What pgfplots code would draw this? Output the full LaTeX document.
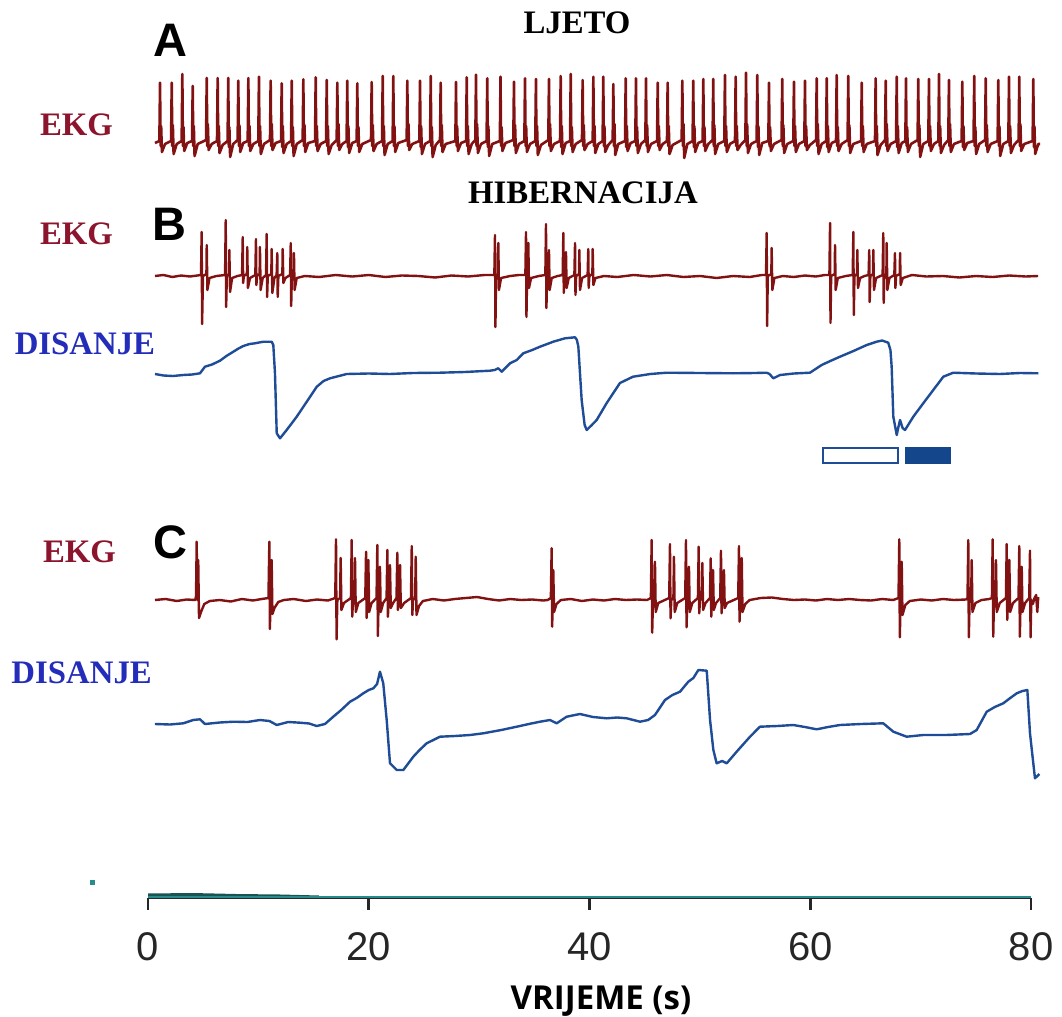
\documentclass[border=0pt]{standalone}
\usepackage{pgfplots}
\pgfplotsset{compat=1.18}
\usepackage{fontspec}
\setmainfont{Liberation Serif}
\newfontfamily\labelsans{Liberation Sans}
\newfontfamily\opensans{Open Sans}
\definecolor{ekg}{RGB}{130,18,18}
\definecolor{ekgtext}{RGB}{140,20,45}
\definecolor{dis}{RGB}{30,76,150}
\definecolor{distext}{RGB}{35,45,185}
\definecolor{barfill}{RGB}{20,70,140}
\definecolor{axteal}{RGB}{40,140,140}

\begin{document}
\begin{tikzpicture}
% time axis (0-80 s)
\begin{axis}[at={(74pt,59.5pt)}, anchor=south west, scale only axis,
  width=441.6pt, height=20pt, xmin=0, xmax=80, ymin=0, ymax=1,
  axis x line=bottom, axis y line=none,
  axis line style={-, black!85, line width=1.5pt}, x axis line style={-},
  xtick={0,20,40,60,80}, xticklabels={0,20,40,60,80}, ytick=\empty,
  tick align=outside, major tick length=6pt,
  tick style={black!85, line width=1.3pt},
  /pgf/number format/assume math mode=true,
  xticklabel style={font=\fontsize{20}{22}\selectfont\labelsans, text=black!85, inner sep=0pt, yshift=-10.85pt}]
\end{axis}

\begin{axis}[name=main, at={(0,0)}, anchor=south west, scale only axis,
  width=531pt, height=508.5pt,
  xmin=-13.406, xmax=82.79, ymin=0, ymax=1017, y dir=reverse,
  hide axis, clip=false]

% teal artefacts on the time axis
\addplot[draw=none, fill=axteal!60!black] coordinates {(0,893.5)(4,893)(8,894)(12,894.5)(15.5,895.5)(15.5,898)(0,898)} -- cycle;
\addplot[axteal, line width=0.8pt] coordinates {(0,897)(80,897)};
\addplot[only marks, mark=square*, mark size=1pt, axteal] coordinates {(-5.07,882)};

% A: EKG summer
\addplot[ekg, line width=1.3pt, line join=round] coordinates {
(0.63,143)
(1.03,141)(1.09,82.7)(1.14,146)(1.19,126)(1.26,152)(1.54,144)
(2.09,141)(2.15,82.7)(2.20,146)(2.25,125)(2.32,154)(2.60,144)
(3.05,141)(3.11,74)(3.16,146)(3.21,127)(3.28,151)(3.56,143)
(3.99,141)(4.05,86)(4.10,146)(4.15,126)(4.22,156)(4.50,144)
(5.26,140)(5.32,78)(5.37,146)(5.42,124)(5.49,150)(5.77,144)
(6.25,141)(6.31,78)(6.36,146)(6.41,126)(6.48,153)(6.76,145)
(7.21,141)(7.27,78)(7.32,147)(7.37,127)(7.44,157)(7.72,144)
(8.12,140)(8.18,80.7)(8.23,146)(8.28,125)(8.35,152)(8.63,143)
(9.03,141)(9.09,78)(9.14,146)(9.19,126)(9.26,151)(9.54,144)
(9.99,141)(10.05,76.7)(10.10,146)(10.15,126)(10.22,154)(10.50,144)
(11.05,140)(11.11,80.7)(11.16,146)(11.21,124)(11.28,150)(11.56,143)
(12.05,141)(12.11,83.3)(12.16,147)(12.21,126)(12.28,153)(12.56,144)
(12.96,141)(13.02,80.7)(13.07,146)(13.12,127)(13.19,156)(13.47,144)
(14.01,140)(14.07,79.3)(14.12,146)(14.17,125)(14.24,152)(14.52,143)
(15.13,141)(15.19,77.3)(15.24,146)(15.29,126)(15.36,151)(15.64,144)
(16.13,141)(16.19,80)(16.24,146)(16.29,126)(16.36,154)(16.64,145)
(17.09,140)(17.15,82.7)(17.20,146)(17.25,124)(17.32,150)(17.60,144)
(17.99,141)(18.05,80.7)(18.10,147)(18.15,126)(18.22,153)(18.50,143)
(18.90,141)(18.96,83.3)(19.01,146)(19.06,127)(19.13,152)(19.41,144)
(20.20,140)(20.26,82)(20.31,146)(20.36,125)(20.43,151)(20.71,144)
(21.20,141)(21.26,76)(21.31,146)(21.36,126)(21.43,155)(21.71,144)
(22.16,141)(22.22,76)(22.27,146)(22.32,126)(22.39,152)(22.67,143)
(23.43,140)(23.49,80.7)(23.54,146)(23.59,124)(23.66,150)(23.94,144)
(24.58,141)(24.64,80.7)(24.69,147)(24.74,126)(24.81,154)(25.09,144)
(25.55,141)(25.61,76)(25.66,146)(25.71,127)(25.78,157)(26.06,145)
(26.45,140)(26.51,82.7)(26.56,146)(26.61,125)(26.68,152)(26.96,144)
(27.84,141)(27.90,82)(27.95,146)(28.00,126)(28.07,151)(28.35,143)
(28.81,141)(28.87,77.3)(28.92,146)(28.97,126)(29.04,154)(29.32,144)
(29.65,140)(29.71,74.7)(29.76,146)(29.81,124)(29.88,153)(30.16,144)
(30.67,141)(30.73,78.3)(30.78,147)(30.83,126)(30.90,156)(31.18,144)
(31.87,141)(31.93,76.7)(31.98,146)(32.03,127)(32.10,151)(32.38,143)
(33.09,140)(33.15,81.7)(33.20,146)(33.25,125)(33.32,153)(33.60,144)
(34.09,141)(34.15,78.3)(34.20,146)(34.25,126)(34.32,152)(34.60,144)
(35.08,141)(35.14,79)(35.19,146)(35.24,126)(35.31,155)(35.59,145)
(36.26,140)(36.32,79)(36.37,146)(36.42,124)(36.49,151)(36.77,144)
(37.32,141)(37.38,76)(37.43,147)(37.48,126)(37.55,154)(37.83,143)
(38.23,141)(38.29,74)(38.34,146)(38.39,127)(38.46,152)(38.74,144)
(39.31,140)(39.37,80)(39.42,146)(39.47,125)(39.54,150)(39.82,144)
(40.28,141)(40.34,76.7)(40.39,146)(40.44,126)(40.51,153)(40.79,144)
(41.18,141)(41.24,76.7)(41.29,146)(41.34,126)(41.41,152)(41.69,145)
(42.09,140)(42.15,84)(42.20,146)(42.25,124)(42.32,155)(42.60,144)
(43.21,141)(43.27,78.3)(43.32,147)(43.37,126)(43.44,151)(43.72,143)
(44.14,141)(44.20,78.3)(44.25,146)(44.30,127)(44.37,153)(44.65,144)
(45.05,140)(45.11,78.3)(45.16,146)(45.21,125)(45.28,152)(45.56,144)
(46.11,141)(46.17,82.7)(46.22,146)(46.27,126)(46.34,150)(46.62,144)
(47.01,141)(47.07,82.7)(47.12,146)(47.17,126)(47.24,154)(47.52,145)
(48.34,140)(48.40,80.7)(48.45,146)(48.50,124)(48.57,158)(48.85,144)
(49.33,141)(49.39,80.7)(49.44,147)(49.49,126)(49.56,152)(49.84,143)
(50.24,141)(50.30,79)(50.35,146)(50.40,127)(50.47,151)(50.75,144)
(51.14,140)(51.20,79)(51.25,146)(51.30,125)(51.37,154)(51.65,144)
(52.20,141)(52.26,75)(52.31,146)(52.36,126)(52.43,152)(52.71,144)
(53.17,141)(53.23,76.7)(53.28,146)(53.33,126)(53.40,150)(53.68,145)
(54.11,140)(54.17,72.7)(54.22,146)(54.27,124)(54.34,153)(54.62,144)
(55.13,141)(55.19,75)(55.24,147)(55.29,126)(55.36,155)(55.64,143)
(56.19,141)(56.25,82.7)(56.30,146)(56.35,127)(56.42,151)(56.70,144)
(57.39,140)(57.45,79)(57.50,146)(57.55,125)(57.62,153)(57.90,144)
(58.45,141)(58.51,81.7)(58.56,146)(58.61,126)(58.68,152)(58.96,144)
(59.45,141)(59.51,80.7)(59.56,146)(59.61,126)(59.68,150)(59.96,145)
(60.51,140)(60.57,78.3)(60.62,146)(60.67,124)(60.74,154)(61.02,144)
(61.42,141)(61.48,78.3)(61.53,147)(61.58,126)(61.65,152)(61.93,143)
(62.32,141)(62.38,75)(62.43,146)(62.48,127)(62.55,151)(62.83,144)
(63.37,140)(63.43,76)(63.48,146)(63.53,125)(63.60,153)(63.88,144)
(64.59,141)(64.65,82.7)(64.70,146)(64.75,126)(64.82,152)(65.10,144)
(65.85,141)(65.91,78.3)(65.96,146)(66.01,126)(66.08,155)(66.36,145)
(66.76,140)(66.82,80.7)(66.87,146)(66.92,124)(66.99,151)(67.27,144)
(67.76,141)(67.82,76.7)(67.87,147)(67.92,126)(67.99,153)(68.27,143)
(68.60,141)(68.66,78.3)(68.71,146)(68.76,127)(68.83,152)(69.11,144)
(69.71,140)(69.77,79)(69.82,146)(69.87,125)(69.94,157)(70.22,144)
(70.68,141)(70.74,79)(70.79,146)(70.84,126)(70.91,151)(71.19,144)
(71.59,141)(71.65,74)(71.70,146)(71.75,126)(71.82,153)(72.10,145)
(72.49,140)(72.55,80)(72.60,146)(72.65,124)(72.72,152)(73.00,144)
(73.70,141)(73.76,81.7)(73.81,147)(73.86,126)(73.93,150)(74.21,143)
(74.78,141)(74.84,76)(74.89,146)(74.94,127)(75.01,154)(75.29,144)
(75.82,140)(75.88,78.3)(75.93,146)(75.98,125)(76.05,152)(76.33,144)
(76.96,141)(77.02,80)(77.07,146)(77.12,126)(77.19,156)(77.47,144)
(77.93,141)(77.99,76.7)(78.04,146)(78.09,126)(78.16,153)(78.44,145)
(78.86,140)(78.92,76.7)(78.97,146)(79.02,124)(79.09,151)(79.37,144)
(80.13,141)(80.19,79)(80.24,147)(80.29,126)(80.36,154)(80.64,144)
(80.80,144)
};

% B: EKG hibernation
\addplot[ekg, line width=1.2pt, line join=round] coordinates {
(0.63,276)(1.4,275)(2.2,277)(3.0,275.5)(3.8,276.5)
(4.80,275)(4.86,232)(4.90,324)(4.98,276)(5.29,274)(5.32,245)(5.38,290)(5.57,278)
(6.2,276)
(6.98,275)(7.04,220)(7.08,307)(7.14,276)(7.34,274)(7.37,250)(7.43,292)(7.62,278)
(8.1,276)
(8.52,275)(8.58,237)(8.62,283)(8.68,276)(8.96,274)(8.99,247)(9.05,288)(9.24,278)
(9.72,275)(9.78,239)(9.82,285)(9.88,276)(10.11,274)(10.14,247)(10.20,290)(10.39,278)
(10.69,275)(10.75,234)(10.79,297)(10.85,276)(11.17,274)(11.20,249)(11.26,293)(11.45,278)
(11.65,275)(11.71,253)(11.75,297)(11.81,276)(12.17,274)(12.20,249)(12.26,283)(12.45,278)
(12.87,275)(12.93,243)(12.97,306)(13.03,276)(13.19,274)(13.22,253)(13.28,290)(13.47,278)
(14.2,276)(15.5,277)(17,275)(18.5,276.5)(20,275)(21.5,277)(23,275.5)(24.5,276)(26,277.5)(27.5,275.5)(29,276.5)(30.5,275)
(31.37,275)(31.43,235)(31.47,327)(31.53,276)(31.70,274)(31.73,243)(31.79,290)(31.98,278)
(32.8,276)(33.6,275)
(34.18,275)(34.24,232)(34.28,317)(34.34,276)(34.42,274)(34.45,243)(34.51,288)(34.70,278)
(35.4,276)
(35.99,275)(36.05,224)(36.09,308)(36.15,276)(36.29,274)(36.32,250)(36.38,290)(36.57,278)
(37.1,276)
(37.56,275)(37.62,233)(37.66,293)(37.72,276)(37.83,274)(37.86,252)(37.92,288)(38.11,278)
(38.62,275)(38.68,243)(38.72,295)(38.78,276)(39.04,274)(39.07,250)(39.13,290)(39.32,278)
(39.82,275)(39.88,249)(39.92,288)(39.98,276)(40.25,274)(40.28,249)(40.34,285)(40.53,278)
(41.3,276)(42.5,277)(44,275)(45.5,276.5)(47,275)(48.5,277)(50,276)(51.5,278)(53,276)(54.5,277)(55.6,275)
(55.98,275)(56.04,233)(56.08,326)(56.14,276)(56.46,274)(56.49,248)(56.55,290)(56.74,278)
(57.5,276)(58.5,277)(59.5,275.5)(60.5,276.5)(61.3,275)
(61.72,275)(61.78,223)(61.82,323)(61.88,276)(62.20,274)(62.23,245)(62.29,290)(62.48,278)
(63.2,276)
(63.83,275)(63.89,232)(63.93,315)(63.99,276)(64.22,274)(64.25,250)(64.31,288)(64.50,278)
(64.9,276)
(65.27,275)(65.33,250)(65.37,302)(65.43,276)(65.67,274)(65.70,250)(65.76,290)(65.95,278)
(66.54,275)(66.60,233)(66.64,303)(66.70,276)(66.88,274)(66.91,243)(66.97,290)(67.16,278)
(67.60,275)(67.66,253)(67.70,288)(67.76,276)(68.09,274)(68.12,253)(68.18,285)(68.37,278)
(69.2,275)(70.5,276.5)(72,276)(73.5,277.5)(75,276)(76.5,277)(78,275.5)(79.5,276.5)(80.62,276)
};

% B: breathing
\addplot[dis, line width=1.2pt, line join=round] coordinates {
(0.63,374)(1.4,375.5)(2.26,376)(3.2,375)(4.0,374.5)(4.71,373.3)(5.16,366.7)(5.8,364.5)
(6.52,360.7)(7.1,356)(7.73,351.7)(8.2,348.5)(8.63,346)(9.2,344)(9.69,343.3)(10.44,341.7)
(11.20,341.7)(11.35,345)(11.50,373)(11.66,433.3)(11.96,438.3)(12.56,430)(13.47,416.7)
(14.38,401.7)(15.29,386.7)(15.9,381)(16.49,378.3)(18.00,374)(20,373.5)(21.92,374)(24,373)
(26.45,372.7)(28.7,372)(30.98,370.7)(31.4,370)(31.73,368.3)(32.04,371.7)(32.79,363.3)
(33.4,360)(33.99,353.3)(34.8,350)(35.51,346.7)(36.71,341.7)(37.77,338.3)(38.68,337.3)
(38.85,340)(38.98,346.7)(39.28,400)(39.55,425)(39.74,430)(40.2,425)(40.64,420)(41.55,403)
(42.75,383)(43.93,376.7)(45.5,374)(46.98,372.7)(50,373)(52.99,373.3)(55,373)(56.04,372.7)
(56.3,374)(56.64,378.3)(57.25,375)(58.5,373.5)(59.96,372.7)(61.02,365)(61.8,361)
(62.68,356.7)(63.9,351)(65.10,345)(66.00,341.7)(66.5,340.5)(67.05,342.7)(67.25,350)
(67.36,366.7)(67.51,416.7)(67.82,435)(67.95,428)(68.12,420)(68.35,428)(68.57,430)
(69.32,416.7)(70.22,403.3)(71.13,390)(72.04,376.7)(72.94,372.7)(75,373.5)(77.17,374)
(79,373)(80.64,373.3)
};

% B: phase bars
\addplot[draw=dis, line width=1pt, fill=white] coordinates {(61.14,448)(67.89,448)(67.89,462.5)(61.14,462.5)} -- cycle;
\addplot[draw=barfill, line width=0.6pt, fill=barfill] coordinates {(68.66,447.5)(72.64,447.5)(72.64,463)(68.66,463)} -- cycle;

% C: EKG
\addplot[ekg, line width=1.2pt, line join=round] coordinates {
(0.63,600)(1.6,599)(2.6,601)(3.5,599.5)(4.28,600)
(4.35,596)(4.41,541.7)(4.46,600)(4.55,560)(4.62,618)(4.80,612)(5.1,604)(5.6,601)
(6.5,600)(7.5,601.5)(8.5,599)(9.5,600.5)(10.3,599)
(10.91,598)(10.99,541.7)(11.04,629)(11.10,600)(11.20,560)(11.27,614)(11.45,608)(11.8,602)(12.3,600)
(13.2,599)(14.3,601)(15.3,599.5)(16.3,600.5)
(16.96,598)(17.03,539.3)(17.08,639.3)(17.15,600)(17.40,598)(17.45,558)(17.52,610)(17.75,603)
(18.38,598)(18.45,540)(18.50,616.7)(18.57,600)(18.70,598)(18.75,558)(18.82,612)(19.05,603)
(19.68,598)(19.75,551.7)(19.80,618)(19.87,600)(19.92,598)(19.96,560)(20.03,612)(20.25,603)
(20.70,598)(20.77,545)(20.82,636)(20.89,600)(20.96,598)(21.01,566.7)(21.08,612)(21.30,603)
(21.61,598)(21.68,550)(21.73,616.7)(21.80,600)(21.87,598)(21.92,565)(21.99,608)(22.20,603)
(22.51,598)(22.58,552.7)(22.63,610)(22.70,600)(22.78,598)(22.83,565)(22.90,608)(23.20,603)
(23.82,598)(23.89,546)(23.94,615)(24.01,600)(24.20,598)(24.25,556.7)(24.32,615)(24.55,606)(24.9,601)
(25.8,599)(26.8,600.5)(27.8,599)(28.8,598)(29.8,597)(30.8,599)(31.8,600.5)(32.8,599)(33.8,600)(34.8,599.5)(35.8,600.5)(36.2,600)
(36.49,598)(36.56,548.3)(36.61,626.7)(36.66,598)(36.71,570)(36.78,612)(37.0,604)(37.4,600)
(38.3,599)(39.3,601)(40.3,599.5)(41.3,600.5)(42.3,599)(43.3,600)(44.3,599.5)(45.2,600)
(45.55,598)(45.62,540)(45.67,632.7)(45.74,600)(45.87,598)(45.92,561.7)(45.99,612)(46.22,603)
(47.21,598)(47.28,544)(47.33,618.3)(47.40,600)(47.59,598)(47.64,556.7)(47.71,612)(47.94,603)
(48.66,598)(48.73,540)(48.78,627.3)(48.85,600)(48.95,598)(49.00,566.7)(49.07,612)(49.30,603)
(49.81,598)(49.88,546.7)(49.93,613.3)(50.00,600)(50.16,598)(50.21,563)(50.28,610)(50.50,603)
(50.90,598)(50.97,558.3)(51.02,616.7)(51.08,600)(51.13,598)(51.18,570)(51.25,610)(51.45,603)
(51.83,598)(51.90,550.7)(51.95,613.3)(52.02,600)(52.12,598)(52.17,570)(52.24,608)(52.45,603)
(53.46,598)(53.53,546)(53.58,621.7)(53.65,600)(53.73,598)(53.78,558)(53.85,612)(54.10,604)(54.5,600)
(55.5,598)(56.5,597.5)(57.5,599)(58.5,600)(59.5,599.5)(60.5,600.5)(61.5,599)(62.5,600)(63.5,599)(64.5,600)(65.5,600.5)(66.5,599)(67.5,600)
(67.98,598)(68.05,539.3)(68.10,637.3)(68.17,600)(68.22,598)(68.27,561.7)(68.34,615)(68.60,605)(69.0,601)
(70,599.5)(71,600.5)(72,599)(73,600)(74.1,599.5)
(74.23,598)(74.30,540)(74.35,637.3)(74.42,600)(74.56,598)(74.61,560)(74.68,612)(74.95,603)(75.5,600)(76.2,599)
(76.44,598)(76.51,539.3)(76.56,636.7)(76.63,600)(76.76,598)(76.81,560)(76.88,612)(77.15,603)
(77.71,598)(77.78,544)(77.83,620)(77.90,600)(77.97,598)(78.02,560)(78.09,612)(78.35,603)
(78.85,598)(78.92,546)(78.97,636.7)(79.04,600)(79.09,598)(79.14,566.7)(79.21,612)(79.45,603)
(79.82,598)(79.89,550.7)(79.94,637.3)(80.01,600)(80.15,604)(80.30,598)(80.45,595)(80.55,612)(80.64,597)
};

% C: breathing
\addplot[dis, line width=1.2pt, line join=round] coordinates {
(0.63,724)(2.0,724.5)(3.20,723.3)(4.10,720)(4.71,719.3)(5.16,724)(6.5,722.5)(7.73,721.7)
(9.0,722)(10.14,720)(11.0,721)(11.66,725)(12.7,722)(13.77,722.7)(14.6,723.5)(15.28,726)
(16.03,724)(16.78,716.7)(17.5,710)(18.30,701.7)(18.9,698)(19.50,693.3)(20.0,690)(20.41,688.3)
(20.75,684)(21.01,671.7)(21.31,683.3)(21.62,720)(21.92,763.3)(22.53,770)(23.13,770)
(24.03,756.7)(24.6,750)(25.24,743.3)(26.45,736.7)(27.8,736)(29.17,735)(30.37,733.3)
(32.0,730)(33.40,726.7)(34.5,724)(35.51,721.7)(36.41,720)(37.02,723.3)(37.92,716.7)
(39.13,714)(40.3,717)(41.55,718.3)(42.5,717.5)(43.36,718.3)(44.57,721.7)(45.3,720)
(45.92,715)(46.83,700)(47.5,695)(48.19,691.7)(48.94,681.7)(49.4,678)(49.85,670)(50.61,670.7)
(50.91,720)(51.21,750)(51.51,763.3)(52.0,761)(52.42,763.3)(53.32,751.7)(54.53,736.7)
(55.43,726.7)(57.0,726)(58.45,725)(59.5,727)(60.57,729.3)(61.6,727)(62.68,725)(64.6,724)
(66.60,723.3)(67.51,731.7)(68.72,736.7)(70.22,735)(72.3,735)(74.46,734)(75.06,730)
(75.97,711.7)(76.7,707)(77.47,703.3)(78.1,698)(78.69,693.3)(79.2,691)(79.65,690)
(79.89,733.3)(80.34,778.3)(80.74,774)
};

% titles and labels
\node[anchor=base, font=\fontsize{16.4}{18}\selectfont\bfseries] at (axis cs:38.86,33.4) {LJETO};
\node[anchor=base, font=\fontsize{16.4}{18}\selectfont\bfseries] at (axis cs:39.40,203) {HIBERNACIJA};
\node[anchor=base, font=\fontsize{23.5}{25}\selectfont\labelsans\bfseries] at (axis cs:2.04,56.7) {A};
\node[anchor=base, font=\fontsize{23.5}{25}\selectfont\labelsans\bfseries] at (axis cs:1.90,240) {B};
\node[anchor=base, font=\fontsize{23.5}{25}\selectfont\labelsans\bfseries] at (axis cs:1.99,558) {C};
\node[anchor=base, font=\fontsize{16.4}{18}\selectfont\bfseries, text=ekgtext] at (axis cs:-6.48,135) {EKG};
\node[anchor=base, font=\fontsize{16.4}{18}\selectfont\bfseries, text=ekgtext] at (axis cs:-6.48,244) {EKG};
\node[anchor=base, font=\fontsize{16.4}{18}\selectfont\bfseries, text=distext] at (axis cs:-5.71,354) {DISANJE};
\node[anchor=base, font=\fontsize{16.4}{18}\selectfont\bfseries, text=ekgtext] at (axis cs:-6.20,562.7) {EKG};
\node[anchor=base, font=\fontsize{16.4}{18}\selectfont\bfseries, text=distext] at (axis cs:-6.01,683.3) {DISANJE};
\node[anchor=base, font=\fontsize{16.5}{18}\selectfont\opensans\bfseries] at (axis cs:41.03,1009) {VRIJEME (s)};
\end{axis}
\pgfresetboundingbox
\path[use as bounding box] (main.south west) rectangle (main.north east);
\end{tikzpicture}
\end{document}
